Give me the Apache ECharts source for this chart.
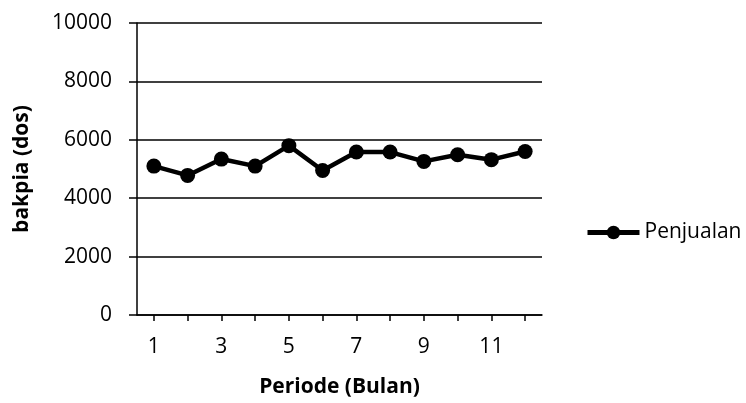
<!DOCTYPE html>
<html>
<head>
<meta charset="utf-8">
<script src="https://cdn.jsdelivr.net/npm/echarts@6/dist/echarts.min.js"></script>
<style>
    html, body { margin: 0; padding: 0; background: #fff; }
    #main { width: 746px; height: 403px; }
</style>
</head>
<body>
<div id="main"></div>
<script>
var periode = ['1', '2', '3', '4', '5', '6', '7', '8', '9', '10', '11', '12'];
var penjualan = [5100, 4780, 5340, 5100, 5800, 4950, 5580, 5580, 5260, 5490, 5320, 5600];
var yTicks = [0, 2000, 4000, 6000, 8000, 10000];

var chart = echarts.init(document.getElementById('main'));
var fontFam = '"Open Sans", "Liberation Sans", sans-serif';

var option = {
    animation: false,
    grid: {
        left: 137,
        right: 204,
        top: 23,
        bottom: 87
    },
    legend: {
        left: 580,
        top: 217,
        itemWidth: 52,
        itemHeight: 17,
        itemGap: 4,
        itemStyle: { color: '#000' },
        lineStyle: { color: '#000', width: 5 },
        textStyle: { fontFamily: fontFam, fontSize: 21, color: '#000' },
        data: ['Penjualan']
    },
    xAxis: {
        type: 'category',
        data: periode,
        boundaryGap: true,
        name: 'Periode (Bulan)',
        nameLocation: 'middle',
        nameGap: 62,
        nameTextStyle: { fontFamily: fontFam, fontSize: 21, fontWeight: 'bold', color: '#000' },
        axisLine: { lineStyle: { color: '#000', width: 1.5 } },
        axisTick: { show: true, alignWithLabel: true, interval: 0, length: 6, lineStyle: { color: '#000', width: 1.5 } },
        axisLabel: {
            interval: 1,
            margin: 22,
            fontFamily: fontFam,
            fontSize: 21,
            color: '#000'
        },
        splitLine: { show: false }
    },
    yAxis: {
        type: 'value',
        min: yTicks[0],
        max: yTicks[yTicks.length - 1],
        interval: yTicks[1] - yTicks[0],
        name: 'bakpia (dos)',
        nameLocation: 'middle',
        nameGap: 104,
        nameTextStyle: { fontFamily: fontFam, fontSize: 21, fontWeight: 'bold', color: '#000' },
        axisLine: { show: true, lineStyle: { color: '#000', width: 1.5 } },
        axisTick: { show: true, length: 8, lineStyle: { color: '#000', width: 1.5 } },
        axisLabel: {
            margin: 25,
            fontFamily: fontFam,
            fontSize: 21,
            color: '#000',
            formatter: function (v) { return String(v); }
        },
        splitLine: { show: true, lineStyle: { color: '#000', width: 1.5 } }
    },
    series: [{
        name: 'Penjualan',
        type: 'line',
        data: penjualan,
        symbol: 'circle',
        symbolSize: 15,
        itemStyle: { color: '#000' },
        lineStyle: { color: '#000', width: 4.5 }
    }]
};

chart.setOption(option);
</script>
</body>
</html>
